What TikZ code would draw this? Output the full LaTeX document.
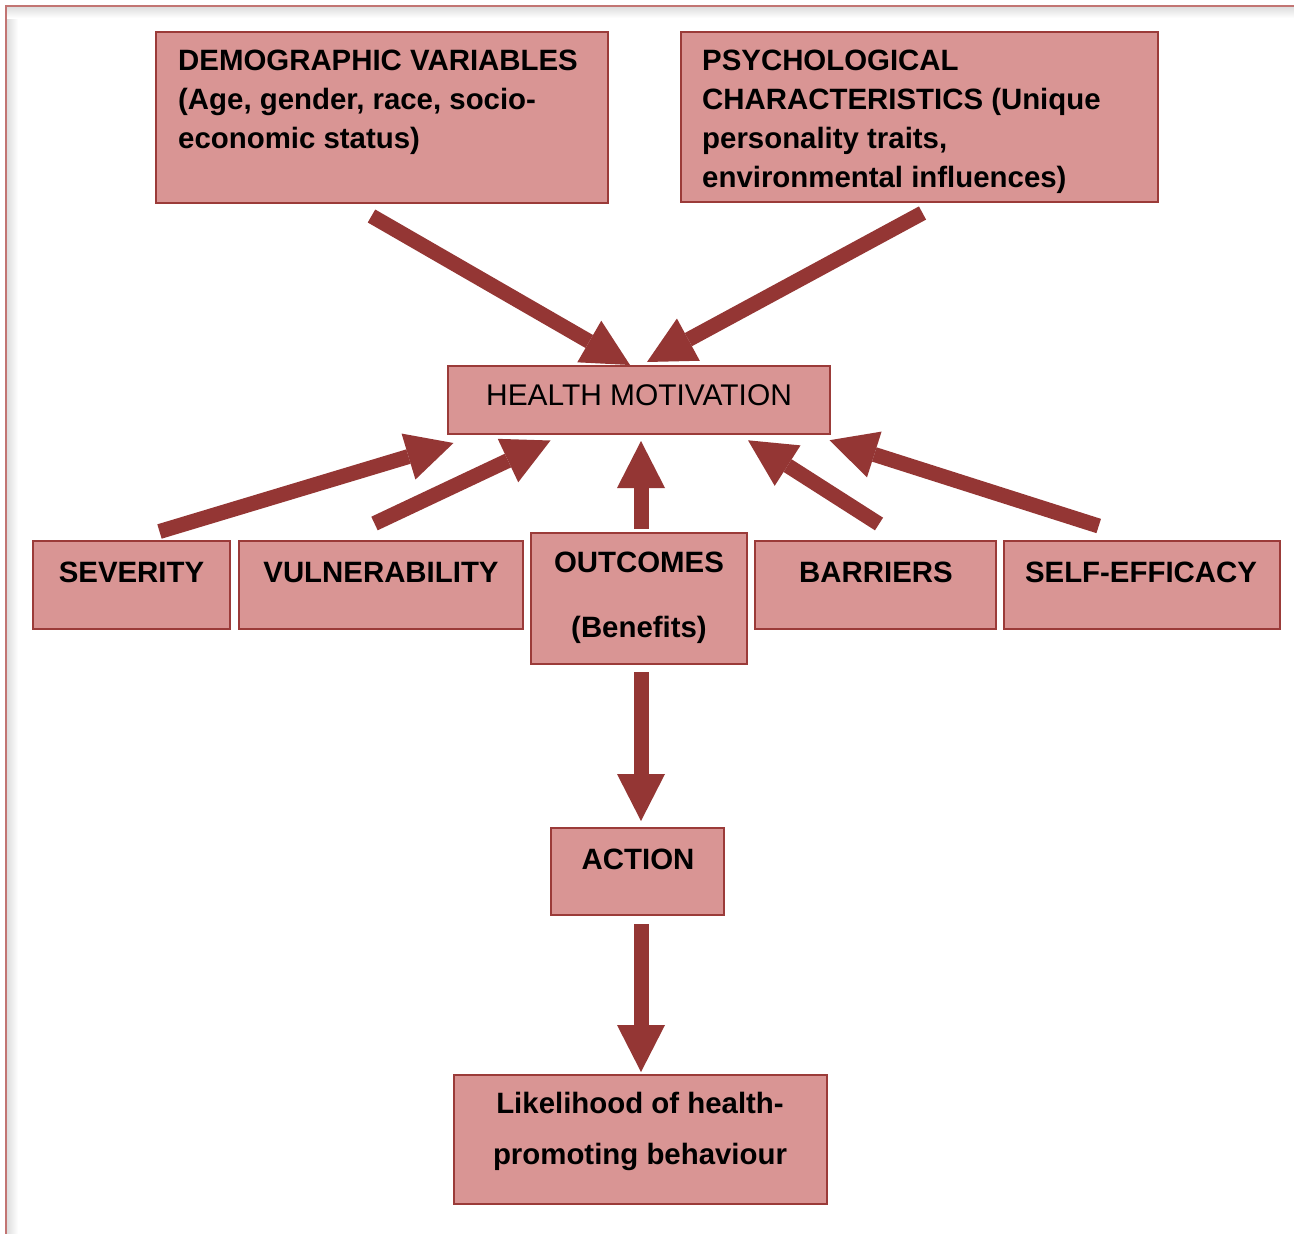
\documentclass[tikz,border=0pt]{standalone}
\usepackage{fontspec}
\setmainfont{Liberation Sans}
\usetikzlibrary{arrows.meta}
\definecolor{boxfill}{HTML}{D99594}
\definecolor{boxline}{HTML}{9B3B39}
\definecolor{arr}{HTML}{943634}
\definecolor{framec}{HTML}{C27573}
\pgfdeclarelayer{back}
\pgfdeclarelayer{bg}
\pgfsetlayers{back,bg,main}
\begin{document}
\begin{tikzpicture}[x=1pt,y=-1pt,
  box/.style={draw=boxline, fill=boxfill, line width=2pt, inner sep=0pt, rectangle},
  lbl/.style={inner sep=0pt, anchor=base, font=\fontsize{29.4}{39}\selectfont\bfseries},
  lbll/.style={lbl, anchor=base west},
  lblr/.style={inner sep=0pt, anchor=base, font=\fontsize{29.9}{39}\selectfont},
  bigarrow/.style={draw=arr, line width=15pt, line cap=butt,
    -{Triangle[length=47pt,width=48pt,line width=0pt]}}]
\useasboundingbox (0,0) rectangle (1294,1234);
\begin{pgfonlayer}{back}
\fill[white] (0,0) rectangle (1294,1234);
\shade[left color=black!13, right color=white] (7,7) rectangle (18,1234);
\shade[top color=black!13, bottom color=white] (7,7) rectangle (1294,18);
\draw[framec, line width=1.5pt] (6,1234) -- (6,6) -- (1294,6);
\end{pgfonlayer}

% boxes
\node[box, minimum width=452pt, minimum height=171pt] (demo) at (382,117.5) {};
\node[box, minimum width=477pt, minimum height=170pt] (psych) at (919.5,117) {};
\node[box, minimum width=382pt, minimum height=68pt] (hm) at (639,400) {};
\node[box, minimum width=197pt, minimum height=88pt] (sev) at (131.5,585) {};
\node[box, minimum width=284pt, minimum height=88pt] (vul) at (381,585) {};
\node[box, minimum width=216pt, minimum height=131pt] (out) at (639,598.5) {};
\node[box, minimum width=241pt, minimum height=88pt] (bar) at (875.5,585) {};
\node[box, minimum width=276pt, minimum height=88pt] (self) at (1142,585) {};
\node[box, minimum width=173pt, minimum height=87pt] (act) at (637.5,871.5) {};
\node[box, minimum width=373pt, minimum height=129pt] (like) at (640.5,1139.5) {};

% texts
\node[lbll] (demo1) at (178,70) {DEMOGRAPHIC VARIABLES};
\node[lbll] (demo2) at (178,109) {(Age, gender, race, socio-};
\node[lbll] (demo3) at (178,148) {economic status)};
\node[lbll] (psy1) at (702,70) {PSYCHOLOGICAL};
\node[lbll] (psy2) at (702,109) {CHARACTERISTICS (Unique};
\node[lbll] (psy3) at (702,148) {personality traits,};
\node[lbll] (psy4) at (702,187) {environmental influences)};
\node[lblr] (hmt) at (639,405) {HEALTH MOTIVATION};
\node[lbl] (sevt) at (131.5,582) {SEVERITY};
\node[lbl] (vult) at (381,582) {VULNERABILITY};
\node[lbl] (outt1) at (639,572) {OUTCOMES};
\node[lbl] (outt2) at (639,637) {(Benefits)};
\node[lbl] (bart) at (876,582) {BARRIERS};
\node[lbl] (selft) at (1141,582) {SELF-EFFICACY};
\node[lbl] (actt) at (638,869) {ACTION};
\node[lbl] (like1) at (640,1113) {Likelihood of health-};
\node[lbl] (like2) at (640,1164) {promoting behaviour};

% arrows
\begin{pgfonlayer}{bg}
\draw[bigarrow] ([shift={(-10.5,12)}]demo.south) -- ([shift={(-9,0)}]hm.north);
\draw[bigarrow] ([shift={(3,10)}]psych.south) -- ([shift={(8,-3)}]hm.north);
\draw[bigarrow] ([shift={(28,-8.5)}]sev.north) -- ([shift={(6.5,8)}]hm.south west);
\draw[bigarrow] ([shift={(-6.5,-16.5)}]vul.north) -- ([shift={(-88.5,5.5)}]hm.south);
\draw[bigarrow] ([shift={(2,-3)}]out.north) -- ([shift={(2,6)}]hm.south);
\draw[bigarrow] ([shift={(3.5,-16)}]bar.north) -- ([shift={(109,5.3)}]hm.south);
\draw[bigarrow] ([shift={(-43.3,-14)}]self.north) -- ([shift={(-1.5,5.2)}]hm.south east);
\draw[bigarrow] ([shift={(2,7)}]out.south) -- ([shift={(3.5,-6)}]act.north);
\draw[bigarrow] ([shift={(3.5,8)}]act.south) -- ([shift={(0.5,-2)}]like.north);
\end{pgfonlayer}
\end{tikzpicture}
\end{document}
